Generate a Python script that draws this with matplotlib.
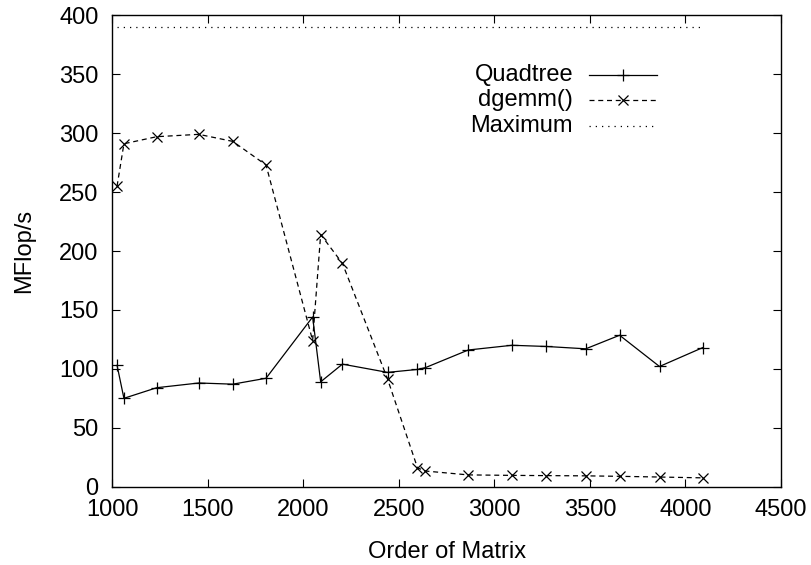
import matplotlib
matplotlib.use('Agg')
import matplotlib.pyplot as plt
from matplotlib.lines import Line2D

plt.rcParams['font.family'] = ['Liberation Sans', 'DejaVu Sans']

# matrix orders
orders = [1024, 1060, 1232, 1452, 1630, 1804, 2048, 2090, 2204, 2440, 2597, 2638,
          2863, 3092, 3270, 3478, 3655, 3864, 4090]
quadtree = [103, 75, 84, 88, 87, 92, 144, 89, 104, 97, 99.5, 101,
            116, 120, 119, 117, 128.5, 102, 118]
dgemm = [255, 291, 297, 299, 293, 273, 124, 214, 189.5, 91.5, 16, 13.3,
         10, 9.6, 9.4, 9.2, 8.8, 8.2, 7.5]
max_x = [1024, 4096]
max_y = [390, 390]

fig = plt.figure(figsize=(8.12, 5.65), dpi=100)
ax = fig.add_axes([0.1385, 0.1386, 0.8233, 0.8343])

lw = 0.9
ax.plot(orders, quadtree, '-', color='k', lw=lw, marker='+', ms=8, mew=lw)
ax.plot(orders, dgemm, color='k', lw=lw, ls=(0, (4, 3)), marker='x', ms=7, mew=lw)
ax.plot(max_x, max_y, color='k', lw=lw, ls=(0, (1, 4)))

ax.set_xlim(1000, 4500)
ax.set_ylim(0, 400)
ax.set_xticks(range(1000, 4501, 500))
ax.set_yticks(range(0, 401, 50))
ax.tick_params(direction='in', top=True, right=True, length=6, width=0.8,
               labelsize=17)
ax.tick_params(axis='x', pad=9)
ax.tick_params(axis='y', pad=10)
for s in ax.spines.values():
    s.set_linewidth(1.0)

ax.set_xlabel('Order of Matrix', fontsize=17, labelpad=14.5)
ax.set_ylabel('MFlop/s', fontsize=17, labelpad=17)

# gnuplot-style key: text right-aligned, sample to the right
key = [('Quadtree', dict(ls='-', marker='+', ms=8)),
       ('dgemm()', dict(ls=(0, (4, 3)), marker='x', ms=7)),
       ('Maximum', dict(ls=(0, (1, 4)), marker=None))]
rows = [0.874, 0.820, 0.766]
for (label, st), yk in zip(key, rows):
    ax.text(0.689, yk, label, transform=ax.transAxes, ha='right', va='center',
            fontsize=17)
    ax.add_line(Line2D([0.713, 0.8145], [yk, yk], transform=ax.transAxes,
                       color='k', lw=lw, ls=st['ls']))
    if st['marker']:
        ax.add_line(Line2D([0.764], [yk], transform=ax.transAxes, color='k',
                           ls='none', marker=st['marker'], ms=st['ms'], mew=lw))

fig.savefig('out.png', dpi=100)
